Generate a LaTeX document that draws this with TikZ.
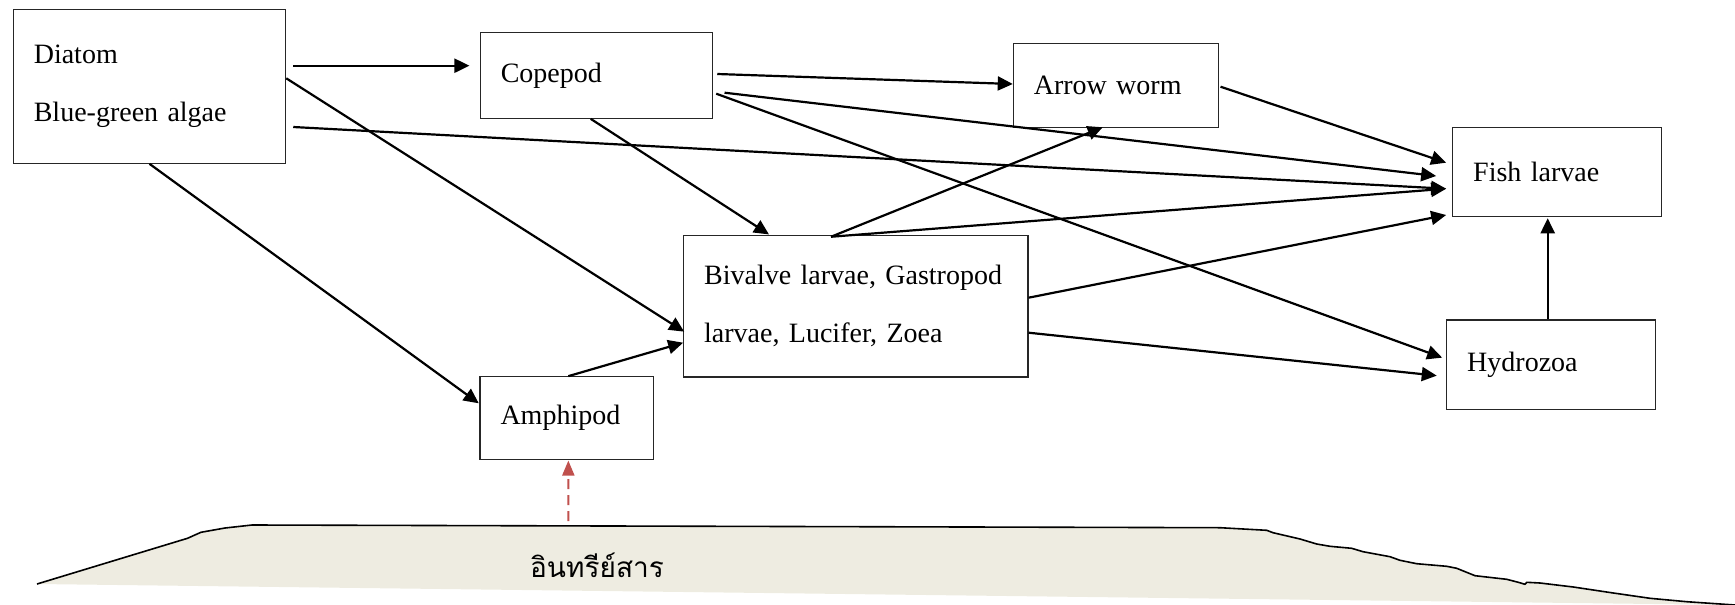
\documentclass[tikz,border=0pt]{standalone}
\usepackage{fontspec}
\setmainfont{Liberation Serif}
\newfontfamily\thaifont[Script=Thai]{Loma}
\usetikzlibrary{arrows.meta,calc}
\definecolor{soil}{HTML}{EEECE1}
\definecolor{feedred}{HTML}{C0504D}
\newcommand{\groundedge}{(37,584) -- (187.5,538.3) -- (200.9,532.3) -- (225,528) -- (252,525)
  -- (1220,527.7) -- (1266.7,530.3) -- (1273,532.7) -- (1300,539) -- (1316.7,544)
  -- (1330,546.3) -- (1351.7,548.3) -- (1363,551.7) -- (1390,556.7) -- (1400,560.3)
  -- (1416.7,563.7) -- (1446.7,566.3) -- (1456.7,568.3) -- (1475,575.7) -- (1506.7,579.3)
  -- (1518.3,582.3) -- (1525,584.3) -- (1526.7,582.3) -- (1540,583) -- (1573.3,587)
  -- (1613.3,593) -- (1650,598.3) -- (1686.7,601.7) -- (1735,605)}
\begin{document}
\begin{tikzpicture}
  [x=1pt, y=-1pt,
   box/.style = {draw=black!85, line width=1.1pt, rectangle, inner xsep=20.5pt, inner ysep=0pt,
                 align=left, font=\fontsize{28}{58}\selectfont},
   link/.style = {line width=2.2pt, -{Triangle[length=15pt,width=14pt]}},
   feed/.style = {draw=feedred, line width=2pt, dash pattern=on 10pt off 6pt,
                  -{Triangle[length=15pt,width=12pt]}}]
  \useasboundingbox (0,0) rectangle (1735,605);
  % ground
  \fill[soil] \groundedge -- cycle;
  \draw[line width=1.6pt, line join=round] \groundedge;
  \node[font=\thaifont\fontsize{28}{34}\selectfont, anchor=base] (organic) at (597,577.7) {อินทรีย์สาร};
  \coordinate (seep) at (568.3,521);
  % boxes
  \node[box, minimum width=272.4pt, minimum height=154pt, text width=231.4pt] (diatom) at (149.5,86.3) {Diatom\\Blue-green algae};
  \node[box, minimum width=232.4pt, minimum height=86pt, text width=191.4pt] (copepod) at (596.5,75.3) {Copepod};
  \node[box, minimum width=205.4pt, minimum height=84pt, text width=164.4pt] (arrowworm) at (1116,85.7) {Arrow worm};
  \node[box, minimum width=208.6pt, minimum height=89.4pt, text width=167.6pt] (fish) at (1557,172) {Fish larvae};
  \node[box, minimum width=344.3pt, minimum height=141.3pt, text width=303.3pt] (bivalve) at (855.85,306.35) {Bivalve larvae, Gastropod\\larvae, Lucifer, Zoea};
  \node[box, minimum width=173.7pt, minimum height=82.6pt, text width=132.7pt] (amphipod) at (566.85,418) {Amphipod};
  \node[box, minimum width=208.6pt, minimum height=89.3pt, text width=167.6pt] (hydrozoa) at (1551,364.65) {Hydrozoa};
  % links
  \draw[link] ($(diatom.east)+(7,-20.6)$) -- ($(copepod.west)+(-10.3,-9.6)$);
  \draw[link] ($(diatom.east)+(7,40.7)$) -- ($(fish.west)+(-6,16.7)$);
  \draw[link] ($(diatom.east)+(0,-8)$) -- ($(bivalve.west)+(1,25.3)$);
  \draw[link] (diatom.south) -- ($(amphipod.west)+(-0.7,-14.7)$);
  \draw[link] ($(copepod.east)+(4,-1.3)$) -- ($(arrowworm.west)+(0,-1.7)$);
  \draw[link] ($(copepod.east)+(11.3,17.4)$) -- ($(fish.west)+(-16,4)$);
  \draw[link] ($(copepod.east)+(3,18.4)$) -- ($(hydrozoa.west)+(-4,-7)$);
  \draw[link] ($(copepod.south)+(-5.8,0)$) -- ($(bivalve.north)+(-86.85,-0.7)$);
  \draw[link] ($(arrowworm.east)+(1.3,1)$) -- ($(fish.west)+(-6,-9.3)$);
  \draw[link] ($(bivalve.north)+(-24.85,1.6)$) -- ($(arrowworm.south)+(-13.3,-1)$);
  \draw[link] ($(bivalve.north)+(-24.85,1.6)$) -- ($(fish.west)+(-6,16.7)$);
  \draw[link] ($(bivalve.east)+(0,-8.65)$) -- ($(fish.west)+(-6,43)$);
  \draw[link] ($(bivalve.east)+(0,26.35)$) -- ($(hydrozoa.west)+(-9.4,11)$);
  \draw[link] ($(amphipod.north)+(1.5,0)$) -- ($(bivalve.west)+(0,36.35)$);
  \draw[link] ($(hydrozoa.north)+(-3.3,0)$) -- ($(fish.south)+(-9.3,1)$);
  \draw[feed] (seep) -- ($(amphipod.south)+(1.5,0.7)$);
\end{tikzpicture}
\end{document}
